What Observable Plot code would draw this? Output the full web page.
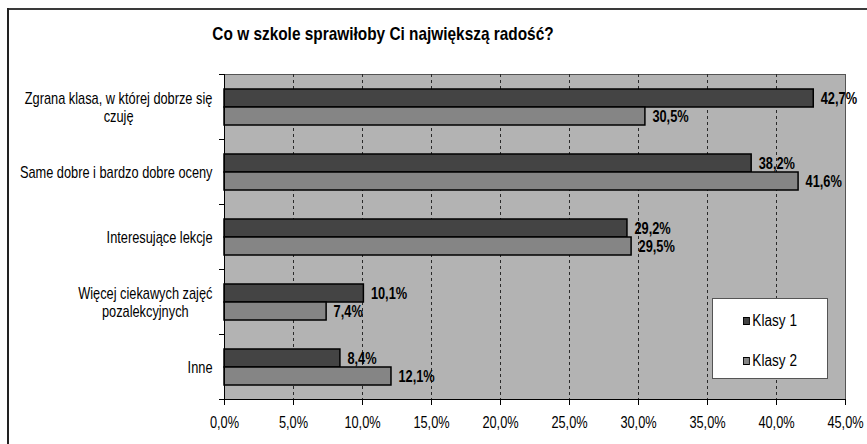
<!DOCTYPE html>
<html><head><meta charset="utf-8">
<script src="https://cdn.jsdelivr.net/npm/d3@7"></script>
<script src="https://cdn.jsdelivr.net/npm/@observablehq/plot@0.6"></script>
<style>
body{margin:0;background:#fff;}
#wrap{position:relative;width:867px;height:444px;overflow:hidden;font-family:"Liberation Sans Narrow","Arial Narrow","Liberation Sans",sans-serif;color:#000;}
#frameTop{position:absolute;left:7px;top:8px;width:860px;height:2px;background:#3a3a3a;}
#frameLeft{position:absolute;left:7px;top:8px;width:2px;height:436px;background:#222;}
#title{position:absolute;left:0;width:766px;top:23px;text-align:center;font-size:19px;font-weight:bold;transform:scaleX(0.81);transform-origin:383px 50%;}
#chart{position:absolute;left:0;top:0;}
#legend{position:absolute;left:712px;top:298px;width:116px;height:81px;background:#fff;border:1px solid #555;box-sizing:border-box;}
.item{position:absolute;left:30px;font-size:16px;line-height:16px;transform:scaleX(0.85);transform-origin:0 50%;white-space:nowrap;}
.sw{display:inline-block;width:6px;height:6px;border:1px solid #000;margin-right:3px;vertical-align:1px;}
</style></head>
<body>
<div id="wrap">
  <div id="frameTop"></div>
  <div id="frameLeft"></div>
  <div id="chart"></div>
  <div id="title">Co w szkole sprawiłoby Ci największą radość?</div>
  <div id="legend"></div>
</div>
<script>
const categories = [
  "Zgrana klasa, w której dobrze się\nczuję",
  "Same dobre i bardzo dobre oceny",
  "Interesujące lekcje",
  "Więcej ciekawych zajęć\npozalekcyjnych",
  "Inne"
];
const klasy1 = [42.7, 38.2, 29.2, 10.1, 8.4];
const klasy2 = [30.5, 41.6, 29.5, 7.4, 12.1];
const seriesNames = ["Klasy 1", "Klasy 2"];
const seriesColors = ["#444444", "#858585"];
const xTicks = [0, 5, 10, 15, 20, 25, 30, 35, 40, 45];

const rows = categories.map((c, i) => ({category: c, k1: klasy1[i], k2: klasy2[i]}));
const fmt = v => v.toFixed(1).replace(".", ",") + "%";
const font = '"Liberation Sans Narrow","Arial Narrow","Liberation Sans",sans-serif';

const plot = Plot.plot({
  width: 867, height: 444,
  marginLeft: 224, marginRight: 22, marginTop: 74, marginBottom: 45,
  style: {fontFamily: font, fontSize: "16px", background: "transparent", color: "#000", overflow: "visible"},
  x: {domain: [0, 45]},
  y: {domain: categories, padding: 0},
  marks: [
    Plot.frame({fill: "#b3b3b3", stroke: "#555"}),
    Plot.ruleX(xTicks.filter(t => t > 0 && t < 45), {stroke: "#2a2a2a", strokeDasharray: "3,3", strokeWidth: 1}),
    Plot.barX(rows, {y: "category", x: "k1", fill: seriesColors[0], stroke: "#000", strokeWidth: 1.5, insetTop: 15, insetBottom: 32}),
    Plot.barX(rows, {y: "category", x: "k2", fill: seriesColors[1], stroke: "#000", strokeWidth: 1.5, insetTop: 33, insetBottom: 14}),
    Plot.text(rows, {y: "category", x: "k1", text: d => fmt(d.k1), dx: 7, dy: -8, textAnchor: "start", fontWeight: "bold", fontSize: 16, fill: "#000"}),
    Plot.text(rows, {y: "category", x: "k2", text: d => fmt(d.k2), dx: 7, dy: 10, textAnchor: "start", fontWeight: "bold", fontSize: 16, fill: "#000"}),
    Plot.frame({anchor: "left", stroke: "#000"}),
    Plot.frame({anchor: "bottom", stroke: "#000"}),
    Plot.ruleY(categories, {y: d => d, x1: 0, x2: 0, insetLeft: -5, dy: -32.5, stroke: "#000"}),
    Plot.ruleY(categories.slice(-1), {y: d => d, x1: 0, x2: 0, insetLeft: -5, dy: 32.5, stroke: "#000"}),
    Plot.axisX({ticks: xTicks, tickSize: 6, tickPadding: 11, tickFormat: fmt, label: null, fontSize: 16}),
    Plot.axisY({tickSize: 0, tickPadding: 12, label: null, fontSize: 16, lineHeight: 1.15})
  ]
});
document.getElementById("chart").appendChild(plot);

// center multi-line category labels (Excel-style)
plot.querySelectorAll('g[aria-label="y-axis tick label"] text').forEach(t => {
  const spans = t.querySelectorAll("tspan");
  if (spans.length > 1) {
    let maxW = 0;
    spans.forEach(s => { maxW = Math.max(maxW, s.getComputedTextLength()); });
    t.setAttribute("text-anchor", "middle");
    spans.forEach(s => s.setAttribute("x", -maxW / 2));
  }
});
// condense all text horizontally (narrow font look)
plot.querySelectorAll("text").forEach(t => {
  t.setAttribute("transform", (t.getAttribute("transform") || "") + " scale(0.8,1)");
});

const legend = document.getElementById("legend");
seriesNames.forEach((name, i) => {
  const it = document.createElement("div");
  it.className = "item";
  it.style.top = (14 + i * 40) + "px";
  it.innerHTML = `<span class="sw" style="background:${seriesColors[i]}"></span>${name}`;
  legend.appendChild(it);
});
</script>
</body></html>
